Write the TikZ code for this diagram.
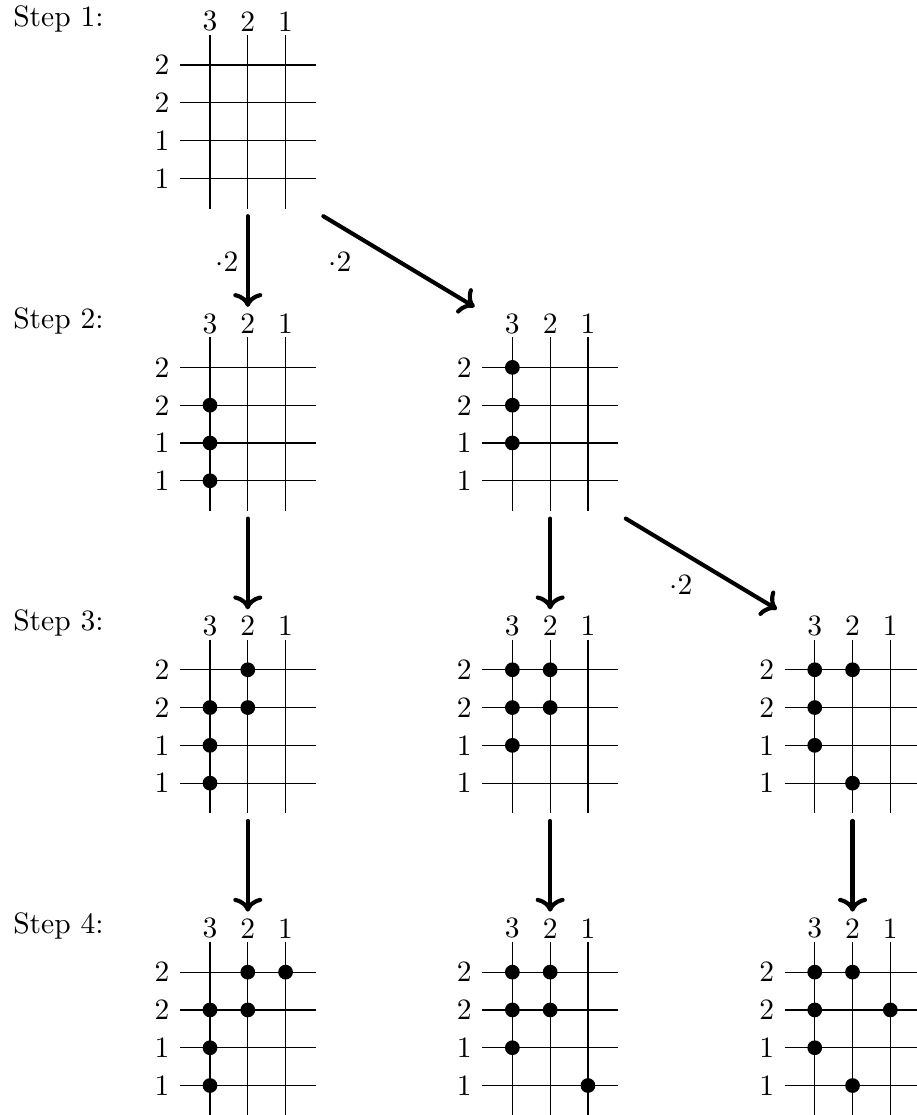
\documentclass[tikz,border=0pt]{standalone}
\usetikzlibrary{arrows.meta}
\tikzset{
  gline/.style={line width=0.4pt},
  clab/.style={inner sep=0pt},
  rlab/.style={anchor=east},
  steplab/.style={anchor=base west, inner sep=0pt},
  arr/.style={-{To[round]}, line width=1.4pt, line cap=round},
  mult/.style={inner sep=1pt},
}
\newcommand\mygrid[3]{%
  \begin{scope}[shift={(#2,#3)}]
    \foreach \r in {0,...,3} \draw[gline] (-0.8,\r) -- (2.8,\r);
    \foreach \c in {0,1,2} \draw[gline] (\c,-0.8) -- (\c,3.8);
    \node[clab] (#1-c3) at (0,-1.16) {3};
    \node[clab] (#1-c2) at (1,-1.16) {2};
    \node[clab] (#1-c1) at (2,-1.16) {1};
    \node[rlab] (#1-r1) at (-0.8,0) {2};
    \node[rlab] (#1-r2) at (-0.8,1) {2};
    \node[rlab] (#1-r3) at (-0.8,2) {1};
    \node[rlab] (#1-r4) at (-0.8,3) {1};
    \coordinate (#1-bot) at (1,4);
    \coordinate (#1-top) at (1,-1.6);
    \coordinate (#1-dstart) at (3,4);
    \coordinate (#1-dend) at (-1,-1.6);
  \end{scope}}
\newcommand\mydots[3]{%
  \begin{scope}[shift={(#1,#2)}]
    \foreach \c/\r in {#3} \fill (\c,\r) circle[radius=2.5pt];
  \end{scope}}
\begin{document}
\begin{tikzpicture}[x=0.45cm, y=-0.45cm]
\useasboundingbox (-5.556,-1.72) rectangle (18.70,27.78);

\node[steplab] (s1) at (-5.22,-1.03) {Step 1:};
\node[steplab] (s2) at (-5.22,6.97) {Step 2:};
\node[steplab] (s3) at (-5.22,14.97) {Step 3:};
\node[steplab] (s4) at (-5.22,22.97) {Step 4:};

\mygrid{a}{0}{0}
\mygrid{b1}{0}{8}
\mygrid{b2}{8}{8}
\mygrid{c1}{0}{16}
\mygrid{c2}{8}{16}
\mygrid{c3}{16}{16}
\mygrid{d1}{0}{24}
\mygrid{d2}{8}{24}
\mygrid{d3}{16}{24}

\mydots{0}{8}{0/1,0/2,0/3}
\mydots{8}{8}{0/0,0/1,0/2}
\mydots{0}{16}{1/0,0/1,1/1,0/2,0/3}
\mydots{8}{16}{0/0,1/0,0/1,1/1,0/2}
\mydots{16}{16}{0/0,1/0,0/1,0/2,1/3}
\mydots{0}{24}{1/0,2/0,0/1,1/1,0/2,0/3}
\mydots{8}{24}{0/0,1/0,0/1,1/1,0/2,2/3}
\mydots{16}{24}{0/0,1/0,0/1,2/1,0/2,1/3}

\draw[arr] (a-bot) -- (b1-top);
\draw[arr] (a-dstart) -- (b2-dend);
\draw[arr] (b1-bot) -- (c1-top);
\draw[arr] (b2-bot) -- (c2-top);
\draw[arr] (b2-dstart) -- (c3-dend);
\draw[arr] (c1-bot) -- (d1-top);
\draw[arr] (c2-bot) -- (d2-top);
\draw[arr] (c3-bot) -- (d3-top);

\node[mult] (m1) at (0.45,5.21) {$\cdot 2$};
\node[mult] (m2) at (3.44,5.21) {$\cdot 2$};
\node[mult] (m3) at (12.46,13.76) {$\cdot 2$};
\end{tikzpicture}
\end{document}
